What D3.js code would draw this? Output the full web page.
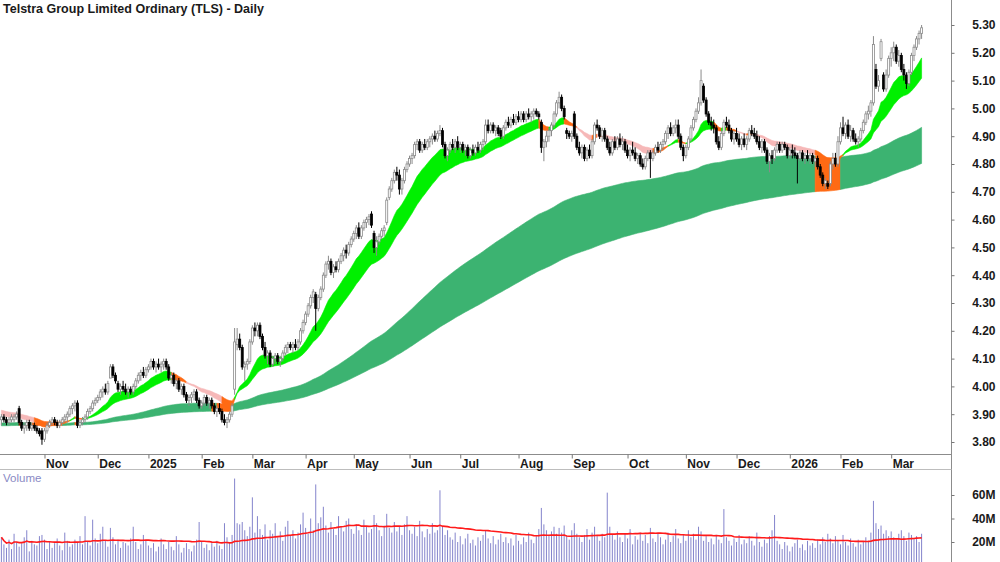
<!DOCTYPE html>
<html><head><meta charset="utf-8">
<script src="https://cdn.jsdelivr.net/npm/d3@7"></script>
<style>body{margin:0;background:#fff}svg{display:block}</style>
</head><body>
<svg id="c" width="1000" height="562"></svg>
<script>
const title = "Telstra Group Limited Ordinary (TLS) - Daily";
// [open, high, low, close] per trading day
const candles = [
[3.88,3.90,3.86,3.89],[3.89,3.90,3.87,3.88],[3.88,3.89,3.86,3.87],[3.87,3.89,3.86,3.88],[3.88,3.90,3.87,3.89],[3.88,3.90,3.87,3.89],[3.89,3.91,3.88,3.90],[3.92,3.93,3.86,3.87],[3.87,3.88,3.84,3.85],[3.85,3.87,3.83,3.86],
[3.86,3.88,3.84,3.87],[3.87,3.88,3.84,3.85],[3.85,3.87,3.84,3.86],[3.86,3.87,3.84,3.85],[3.85,3.86,3.83,3.84],[3.84,3.85,3.82,3.83],[3.84,3.85,3.79,3.81],[3.81,3.85,3.80,3.84],[3.84,3.87,3.83,3.86],[3.86,3.88,3.85,3.87],
[3.87,3.89,3.86,3.88],[3.88,3.89,3.86,3.87],[3.87,3.88,3.85,3.86],[3.86,3.88,3.85,3.87],[3.87,3.89,3.86,3.88],[3.88,3.90,3.87,3.89],[3.89,3.91,3.87,3.90],[3.90,3.93,3.89,3.92],[3.92,3.94,3.90,3.93],[3.93,3.95,3.91,3.94],
[3.94,3.95,3.85,3.86],[3.86,3.88,3.85,3.87],[3.87,3.89,3.86,3.88],[3.88,3.90,3.87,3.89],[3.89,3.92,3.88,3.91],[3.91,3.93,3.90,3.92],[3.92,3.95,3.91,3.94],[3.94,3.96,3.93,3.95],[3.95,3.97,3.94,3.96],[3.96,3.99,3.95,3.98],
[3.98,4.00,3.96,3.99],[3.99,4.01,3.97,3.98],[3.98,4.02,3.97,4.01],[4.03,4.08,4.03,4.07],[4.07,4.08,4.03,4.04],[4.04,4.05,4.01,4.02],[4.01,4.02,3.98,3.99],[3.99,4.01,3.97,4.00],[4.00,4.02,3.98,3.99],[3.99,4.01,3.97,3.98],
[3.98,4.00,3.96,3.99],[3.99,4.00,3.97,3.98],[3.98,4.01,3.97,4.00],[4.00,4.03,3.99,4.02],[4.02,4.05,4.01,4.04],[4.04,4.06,4.02,4.05],[4.05,4.07,4.03,4.04],[4.04,4.07,4.03,4.06],[4.06,4.08,4.05,4.07],[4.07,4.10,4.06,4.09],
[4.09,4.10,4.06,4.07],[4.07,4.09,4.05,4.08],[4.08,4.10,4.06,4.07],[4.07,4.09,4.05,4.08],[4.08,4.10,4.06,4.09],[4.09,4.10,4.06,4.07],[4.07,4.08,4.02,4.03],[4.03,4.05,4.01,4.04],[4.04,4.05,4.00,4.01],[4.01,4.03,3.99,4.02],
[4.02,4.03,3.98,3.99],[3.99,4.01,3.97,4.00],[4.00,4.01,3.96,3.97],[3.97,3.98,3.94,3.95],[3.95,3.97,3.93,3.96],[3.96,3.98,3.94,3.97],[3.97,3.99,3.95,3.98],[3.98,3.99,3.94,3.95],[3.95,3.96,3.92,3.93],[3.93,3.95,3.92,3.94],
[3.94,3.97,3.93,3.96],[3.96,3.97,3.93,3.94],[3.94,3.96,3.92,3.95],[3.95,3.96,3.92,3.93],[3.93,3.94,3.90,3.91],[3.91,3.93,3.89,3.92],[3.92,3.94,3.90,3.91],[3.91,3.92,3.87,3.88],[3.88,3.90,3.86,3.87],[3.87,3.89,3.85,3.88],
[3.88,3.91,3.87,3.90],[3.90,3.94,3.89,3.93],[3.99,4.21,3.97,4.16],[4.15,4.21,4.13,4.17],[4.17,4.19,4.13,4.14],[4.14,4.15,4.06,4.07],[4.07,4.09,4.02,4.08],[4.08,4.10,4.06,4.09],[4.09,4.17,4.08,4.16],[4.16,4.22,4.15,4.21],
[4.21,4.23,4.18,4.20],[4.20,4.23,4.18,4.22],[4.22,4.23,4.17,4.18],[4.18,4.19,4.13,4.14],[4.14,4.16,4.10,4.11],[4.11,4.13,4.08,4.12],[4.12,4.13,4.07,4.08],[4.08,4.11,4.07,4.10],[4.10,4.12,4.08,4.11],[4.11,4.12,4.08,4.09],
[4.09,4.11,4.07,4.10],[4.10,4.13,4.09,4.12],[4.12,4.15,4.11,4.14],[4.14,4.16,4.12,4.15],[4.15,4.16,4.13,4.14],[4.14,4.16,4.12,4.15],[4.15,4.17,4.13,4.14],[4.14,4.17,4.13,4.16],[4.16,4.21,4.15,4.20],[4.20,4.24,4.19,4.23],
[4.23,4.27,4.22,4.26],[4.26,4.30,4.25,4.29],[4.29,4.33,4.28,4.32],[4.32,4.35,4.30,4.34],[4.33,4.34,4.20,4.28],[4.28,4.33,4.27,4.32],[4.32,4.36,4.31,4.35],[4.35,4.41,4.34,4.40],[4.40,4.45,4.39,4.44],[4.44,4.47,4.42,4.45],
[4.45,4.46,4.40,4.41],[4.41,4.44,4.39,4.43],[4.43,4.45,4.41,4.42],[4.42,4.46,4.41,4.45],[4.45,4.48,4.44,4.47],[4.47,4.50,4.45,4.49],[4.49,4.51,4.46,4.48],[4.48,4.52,4.47,4.51],[4.51,4.54,4.50,4.53],[4.53,4.56,4.52,4.55],
[4.55,4.58,4.53,4.57],[4.57,4.59,4.53,4.54],[4.54,4.58,4.53,4.57],[4.57,4.60,4.56,4.59],[4.59,4.61,4.57,4.60],[4.60,4.62,4.58,4.61],[4.62,4.63,4.57,4.58],[4.55,4.56,4.48,4.50],[4.50,4.54,4.47,4.52],[4.52,4.55,4.51,4.54],
[4.54,4.57,4.53,4.56],[4.56,4.58,4.54,4.57],[4.59,4.68,4.58,4.67],[4.68,4.72,4.67,4.71],[4.71,4.75,4.70,4.74],[4.74,4.78,4.73,4.77],[4.77,4.79,4.74,4.76],[4.76,4.78,4.69,4.71],[4.71,4.75,4.69,4.74],[4.74,4.79,4.73,4.78],
[4.78,4.81,4.77,4.80],[4.80,4.83,4.79,4.82],[4.82,4.84,4.80,4.83],[4.83,4.88,4.82,4.87],[4.87,4.89,4.85,4.88],[4.88,4.89,4.84,4.85],[4.85,4.88,4.84,4.87],[4.87,4.89,4.85,4.86],[4.86,4.89,4.85,4.88],[4.88,4.90,4.86,4.89],
[4.89,4.91,4.87,4.90],[4.90,4.92,4.88,4.89],[4.89,4.92,4.88,4.91],[4.91,4.94,4.90,4.92],[4.92,4.93,4.86,4.87],[4.87,4.88,4.82,4.83],[4.83,4.86,4.81,4.85],[4.85,4.88,4.84,4.87],[4.87,4.89,4.85,4.86],[4.86,4.89,4.84,4.88],
[4.88,4.90,4.85,4.86],[4.86,4.88,4.84,4.87],[4.87,4.88,4.84,4.85],[4.85,4.87,4.83,4.86],[4.86,4.87,4.82,4.83],[4.83,4.86,4.82,4.85],[4.85,4.87,4.83,4.84],[4.84,4.87,4.83,4.86],[4.86,4.88,4.84,4.85],[4.85,4.88,4.84,4.87],
[4.87,4.89,4.85,4.88],[4.88,4.96,4.87,4.94],[4.94,4.96,4.91,4.92],[4.92,4.95,4.91,4.94],[4.94,4.95,4.91,4.92],[4.92,4.94,4.90,4.93],[4.93,4.94,4.90,4.91],[4.92,4.93,4.89,4.90],[4.90,4.94,4.89,4.93],[4.93,4.96,4.92,4.95],
[4.95,4.97,4.93,4.94],[4.94,4.97,4.93,4.96],[4.96,4.98,4.94,4.95],[4.95,4.98,4.94,4.97],[4.97,4.99,4.95,4.96],[4.96,4.99,4.95,4.98],[4.98,4.99,4.95,4.96],[4.96,4.99,4.95,4.98],[4.98,5.00,4.96,4.97],[4.97,4.99,4.95,4.98],
[4.98,5.00,4.96,4.99],[4.99,5.00,4.97,4.98],[4.98,4.99,4.96,4.97],[4.95,4.96,4.84,4.86],[4.86,4.89,4.81,4.88],[4.88,4.92,4.86,4.90],[4.90,4.93,4.88,4.92],[4.92,4.95,4.90,4.94],[4.94,4.99,4.93,4.98],[4.98,5.03,4.97,5.02],
[5.02,5.06,5.00,5.04],[5.04,5.05,4.99,5.00],[5.00,5.01,4.96,4.97],[4.92,4.93,4.89,4.91],[4.91,4.92,4.89,4.90],[4.90,4.92,4.88,4.91],[4.98,4.99,4.89,4.90],[4.90,4.91,4.85,4.86],[4.86,4.88,4.83,4.84],[4.84,4.87,4.82,4.86],
[4.86,4.87,4.81,4.82],[4.82,4.86,4.81,4.85],[4.85,4.87,4.82,4.83],[4.83,4.89,4.82,4.88],[4.88,4.95,4.87,4.94],[4.94,4.96,4.92,4.93],[4.93,4.94,4.89,4.90],[4.90,4.93,4.88,4.92],[4.92,4.93,4.88,4.89],[4.89,4.90,4.85,4.86],
[4.86,4.88,4.83,4.84],[4.84,4.89,4.83,4.88],[4.88,4.90,4.85,4.86],[4.86,4.90,4.85,4.89],[4.89,4.91,4.86,4.87],[4.87,4.90,4.85,4.88],[4.88,4.89,4.84,4.85],[4.85,4.87,4.82,4.83],[4.83,4.86,4.81,4.85],[4.85,4.88,4.83,4.84],
[4.84,4.86,4.81,4.82],[4.82,4.84,4.80,4.83],[4.83,4.84,4.79,4.80],[4.80,4.82,4.78,4.79],[4.79,4.83,4.78,4.82],[4.82,4.85,4.81,4.84],[4.84,4.85,4.75,4.82],[4.82,4.85,4.81,4.84],[4.84,4.87,4.83,4.86],[4.86,4.88,4.84,4.85],
[4.85,4.88,4.84,4.87],[4.87,4.89,4.85,4.88],[4.88,4.92,4.87,4.91],[4.91,4.94,4.89,4.93],[4.93,4.95,4.90,4.91],[4.91,4.94,4.90,4.93],[4.93,4.96,4.91,4.94],[4.94,4.96,4.89,4.90],[4.90,4.91,4.85,4.86],[4.86,4.87,4.81,4.83],
[4.83,4.87,4.82,4.86],[4.86,4.90,4.85,4.89],[4.89,4.94,4.88,4.93],[4.93,4.97,4.92,4.96],[4.96,5.00,4.95,4.99],[4.99,5.04,4.98,5.02],[5.02,5.14,5.01,5.10],[5.08,5.09,5.02,5.03],[5.03,5.04,4.97,4.98],[4.98,4.99,4.94,4.95],
[4.95,4.97,4.92,4.94],[4.94,4.96,4.91,4.93],[4.93,4.94,4.87,4.88],[4.88,4.90,4.85,4.86],[4.86,4.92,4.85,4.91],[4.91,4.96,4.90,4.95],[4.95,4.97,4.93,4.94],[4.94,4.96,4.91,4.92],[4.92,4.93,4.88,4.89],[4.89,4.92,4.87,4.91],
[4.91,4.93,4.88,4.89],[4.89,4.91,4.86,4.87],[4.87,4.90,4.85,4.89],[4.89,4.91,4.86,4.87],[4.87,4.90,4.85,4.89],[4.89,4.93,4.88,4.92],[4.92,4.94,4.90,4.91],[4.91,4.93,4.89,4.90],[4.90,4.92,4.87,4.88],[4.88,4.90,4.85,4.86],
[4.86,4.89,4.84,4.88],[4.88,4.89,4.84,4.85],[4.85,4.86,4.80,4.81],[4.81,4.84,4.77,4.83],[4.83,4.85,4.80,4.82],[4.82,4.86,4.81,4.85],[4.85,4.88,4.84,4.87],[4.87,4.88,4.84,4.85],[4.85,4.88,4.84,4.87],[4.87,4.88,4.85,4.86],
[4.86,4.87,4.82,4.83],[4.83,4.86,4.82,4.85],[4.85,4.87,4.82,4.84],[4.84,4.86,4.82,4.83],[4.83,4.84,4.73,4.82],[4.82,4.85,4.81,4.84],[4.84,4.85,4.81,4.82],[4.82,4.84,4.80,4.83],[4.83,4.85,4.81,4.82],[4.82,4.84,4.80,4.83],
[4.83,4.84,4.80,4.81],[4.81,4.83,4.79,4.82],[4.82,4.83,4.78,4.79],[4.79,4.80,4.75,4.76],[4.76,4.77,4.72,4.73],[4.73,4.75,4.71,4.74],[4.73,4.74,4.71,4.72],[4.73,4.81,4.72,4.80],[4.80,4.84,4.78,4.82],[4.82,4.84,4.79,4.80],
[4.80,4.90,4.79,4.88],[4.88,4.95,4.87,4.93],[4.93,4.97,4.90,4.91],[4.91,4.95,4.89,4.94],[4.94,4.96,4.89,4.90],[4.90,4.94,4.88,4.92],[4.92,4.93,4.88,4.89],[4.89,4.91,4.87,4.88],[4.88,4.90,4.86,4.89],[4.89,4.93,4.88,4.92],
[4.92,4.96,4.91,4.95],[4.95,4.99,4.94,4.98],[4.98,5.01,4.96,4.99],[4.99,5.03,4.97,5.02],[5.02,5.26,5.01,5.23],[5.14,5.16,5.07,5.08],[5.08,5.12,5.06,5.10],[5.18,5.25,5.17,5.24],[5.12,5.13,5.06,5.07],[5.07,5.14,5.06,5.12],
[5.12,5.19,5.11,5.18],[5.18,5.22,5.15,5.20],[5.20,5.24,5.17,5.22],[5.22,5.23,5.16,5.17],[5.17,5.21,5.15,5.19],[5.19,5.20,5.13,5.14],[5.14,5.16,5.10,5.12],[5.12,5.13,5.07,5.09],[5.09,5.14,5.08,5.13],[5.13,5.20,5.12,5.19],
[5.19,5.23,5.17,5.22],[5.22,5.26,5.21,5.25],[5.25,5.28,5.23,5.27],[5.27,5.30,5.25,5.29]
];
// volume in millions
const volumes = [
24,18,15,22,14,27,20,16,19,24, 30,12,21,18,17,25,26,22,14,20, 15,19,23,17,13,28,21,16,18,22, 20,25,18,42,20,17,39,23,19,27,
33,21,16,32,24,18,22,15,20,19, 17,23,33,20,14,18,26,21,17,15, 19,12,16,23,18,14,20,16,13,25, 18,11,15,19,14,12,17,22,37,20,
15,18,13,19,16,21,17,14,36,24, 20,26,74,36,35,37,30,25,33,58, 28,42,31,26,35,22,30,27,36,24, 29,21,33,38,26,30,23,28,35,45,
32,27,40,30,69,36,41,50,34,28, 37,31,26,42,33,29,38,40,31,27, 35,30,26,39,33,28,31,43,36,30, 25,34,44,32,28,37,29,33,26,35,
42,30,27,33,25,38,29,24,31,27, 36,28,30,64,33,26,30,24,22,28, 20,25,18,23,27,19,22,17,24,21, 26,30,23,19,25,18,22,27,20,24,
19,23,17,26,21,18,24,20,28,22, 19,25,31,49,35,30,26,29,33,27, 32,28,34,25,22,30,36,27,24,20, 26,31,22,28,33,25,21,27,24,62,
33,26,22,29,24,20,27,23,31,18, 25,22,28,21,26,19,32,23,20,27, 24,18,22,28,20,25,31,23,19,26, 21,30,24,27,22,33,29,21,25,20,
23,18,26,22,19,48,24,21,17,23, 20,26,18,22,19,25,21,17,28,20, 16,22,19,25,30,43,21,18,14,20, 17,12,16,19,22,15,18,13,21,17,
19,15,22,18,24,20,27,23,19,25, 21,18,26,20,17,23,19,16,22,18, 20,24,21,28,55,36,31,34,27,30, 25,29,24,22,27,30,25,21,28,26,
23,25,20,27
];
const tickLabels = ["Nov","Dec","2025","Feb","Mar","Apr","May","Jun","Jul","Aug","Sep","Oct","Nov","Dec","2026","Feb","Mar"];
const tickIndex  = [17,38,58,79,99,120,139,161,181,204,225,247,270,290,311,331,351];
const priceTicks = [3.8,3.9,4.0,4.1,4.2,4.3,4.4,4.5,4.6,4.7,4.8,4.9,5.0,5.1,5.2,5.3];
const volTicks = [20,40,60];
const shortPeriods = [15,18,21,24,27,30];
const shortStart   = [3.898,3.902,3.906,3.910,3.913,3.916];
const longPeriods  = [130,150,170,190,210,230];
const longStart    = [3.868,3.866,3.864,3.862,3.860,3.858];
const volAvgPeriod = 50;

const N = candles.length;
const closes = candles.map(d => d[3]);
const svg = d3.select("#c");
const FONT = "'Liberation Sans Narrow','Arial Narrow','Liberation Sans',Arial,sans-serif";

const x = d3.scaleLinear().domain([0, N - 1]).range([1.4, 1.4 + (N - 1) * 2.535]);
const y = d3.scaleLinear().domain([3.8, 5.3]).range([442, 25]);
const yv = d3.scaleLinear().domain([0, 60]).range([565.5, 495]);
const AX = 951.5;

svg.append("defs").call(d => {
  d.append("clipPath").attr("id", "cp").append("rect").attr("x", 0).attr("y", 0).attr("width", 951).attr("height", 454);
  d.append("clipPath").attr("id", "cv").append("rect").attr("x", 0).attr("y", 470).attr("width", 951).attr("height", 92);
});

function emaSeries(vals, p, seed) {
  const a = 2 / (p + 1); let e = seed;
  return vals.map(v => (e = e + a * (v - e)));
}
const longSeries = longPeriods.map((p, k) => emaSeries(closes, p, longStart[k]));
const shortSeries = shortPeriods.map((p, k) => emaSeries(closes, p, shortStart[k]));
const lo = s => d3.range(N).map(t => d3.min(s, e => e[t]));
const hi = s => d3.range(N).map(t => d3.max(s, e => e[t]));
const sLo = lo(shortSeries), sHi = hi(shortSeries), lLo = lo(longSeries), lHi = hi(longSeries);
const overlap = d3.range(N).map(t => sLo[t] < lHi[t] && sHi[t] > lLo[t]);
const prev = t => Math.max(t - 1, 0), nxt = t => (t === 0 ? 1 : t);
const F = shortSeries[0], S = shortSeries[shortSeries.length - 1];
const shortState = d3.range(N).map(t => {
  if (overlap[t]) return "mixed";
  const u = nxt(t), sUp = S[u] > S[u - 1];
  if (F[t] > S[t] && sUp) return "up";
  if (F[t] < S[t] && !sUp) return "down";
  return "mixed";
});
const longState = d3.range(N).map(t => {
  if (overlap[t]) return "mixed";
  const u = nxt(t);
  return longSeries.every(e => e[u] < e[u - 1]) ? "mixed" : "up";
});

const gP = svg.append("g").attr("clip-path", "url(#cp)");
function drawBand(loA, hiA, st, colors) {
  const area = d3.area().x(i => x(i)).y0(i => y(loA[i])).y1(i => y(hiA[i]));
  let start = 0;
  for (let t = 1; t <= N; t++) {
    if (t === N || st[t] !== st[start]) {
      const idx = d3.range(prev(start), t);
      const c = colors[st[start]];
      gP.append("path").datum(idx).attr("d", area).attr("fill", c).attr("stroke", c).attr("stroke-width", 0.6);
      start = t;
    }
  }
}
drawBand(lLo, lHi, longState, { up: "#3cb371", down: "#ff6a14", mixed: "#ff6a14" });
drawBand(sLo, sHi, shortState, { up: "#00f000", down: "#f6b8b8", mixed: "#ff6a14" });

// candles
const gc = gP.append("g");
candles.forEach((d, i) => {
  const [o, h, l, c] = d; const up = c >= o;
  const cx = x(i);
  gc.append("line").attr("x1", cx).attr("x2", cx).attr("y1", y(h)).attr("y2", y(l))
    .attr("stroke", up ? "#8a8a8a" : "#000").attr("stroke-width", 1);
  const top = y(Math.max(o, c)), bot = y(Math.min(o, c));
  gc.append("rect").attr("x", cx - 1).attr("width", 2).attr("y", top).attr("height", Math.max(bot - top, 0.8))
    .attr("fill", up ? "#fff" : "#000").attr("stroke", up ? "#8a8a8a" : "#000").attr("stroke-width", 0.8);
});

// volume
const gV = svg.append("g").attr("clip-path", "url(#cv)");
gV.selectAll("line").data(volumes).join("line")
  .attr("x1", (d, i) => x(i)).attr("x2", (d, i) => x(i))
  .attr("y1", yv(0)).attr("y2", d => yv(d)).attr("stroke", "#8484cc").attr("stroke-width", 1);
const vAvg = volumes.map((v, i) => d3.mean(volumes.slice(Math.max(0, i - volAvgPeriod + 1), i + 1)));
gV.append("path").datum(vAvg).attr("fill", "none").attr("stroke", "#ff1a1a").attr("stroke-width", 1.6)
  .attr("d", d3.line().x((d, i) => x(i)).y(d => yv(d)));

// frame lines
svg.append("line").attr("x1", AX).attr("x2", AX).attr("y1", 0).attr("y2", 562).attr("stroke", "#8c8c8c");
svg.append("line").attr("x1", 0).attr("x2", AX).attr("y1", 454.5).attr("y2", 454.5).attr("stroke", "#8c8c8c");
svg.append("line").attr("x1", 0).attr("x2", AX).attr("y1", 469.5).attr("y2", 469.5).attr("stroke", "#bdbdbd");

// price axis
const ga = svg.append("g").attr("transform", `translate(${AX},0)`)
  .call(d3.axisRight(y).tickValues(priceTicks).tickFormat(d3.format(".2f")).tickSize(3));
ga.select(".domain").remove();
ga.selectAll("line").attr("stroke", "#777");
ga.selectAll("text").attr("x", 44).attr("text-anchor", "end").attr("font-family", FONT)
  .attr("font-weight", "bold").attr("font-size", 12).attr("fill", "#1a1a1a");
const gva = svg.append("g").attr("transform", `translate(${AX},0)`)
  .call(d3.axisRight(yv).tickValues(volTicks).tickFormat(d => d + "M").tickSize(3));
gva.select(".domain").remove();
gva.selectAll("line").attr("stroke", "#777");
gva.selectAll("text").attr("x", 44).attr("text-anchor", "end").attr("font-family", FONT)
  .attr("font-weight", "bold").attr("font-size", 12).attr("fill", "#1a1a1a");

// time axis
const gx = svg.append("g").attr("transform", "translate(0,454.5)")
  .call(d3.axisBottom(x).tickValues(tickIndex).tickFormat((d, i) => tickLabels[i]).tickSize(4));
gx.select(".domain").remove();
gx.selectAll("line").attr("stroke", "#777");
gx.selectAll("text").attr("text-anchor", "start").attr("x", 1).attr("y", 5).attr("dy", "0.71em")
  .attr("font-family", FONT).attr("font-weight", "bold").attr("font-size", 12).attr("fill", "#1a1a1a");

svg.append("text").attr("x", 3).attr("y", 13).text(title).attr("font-family", FONT)
  .attr("font-weight", "bold").attr("font-size", 12.5).attr("fill", "#1a1a1a");
svg.append("text").attr("x", 3).attr("y", 482).text("Volume").attr("font-family", FONT)
  .attr("font-size", 11.5).attr("fill", "#8a8ac4");
</script>
</body></html>
